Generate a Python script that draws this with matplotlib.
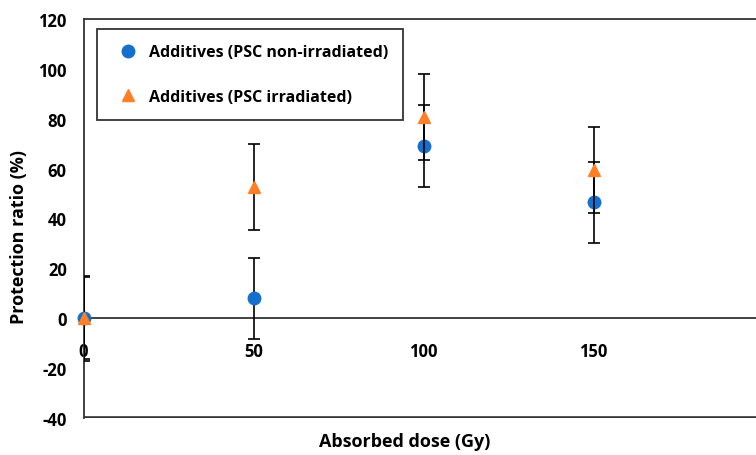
import matplotlib
matplotlib.use("Agg")
import matplotlib.pyplot as plt
from matplotlib.lines import Line2D

dose = [0, 50, 100, 150]
non_irr = [0, 8, 69.2, 46.5]
non_irr_err = [17, 16.2, 16.4, 16.3]
irr = [0, 52.6, 80.6, 59.5]
irr_err = [16.5, 17.2, 17.2, 17.2]
xticks = [0, 50, 100, 150]
yticks = [-40, -20, 0, 20, 40, 60, 80, 100, 120]
labels = ['Additives (PSC non-irradiated)', 'Additives (PSC irradiated)']

plt.rcParams['font.family'] = ['Open Sans', 'DejaVu Sans']
plt.rcParams['font.weight'] = 'bold'
plt.rcParams['axes.unicode_minus'] = False

W, H = 756, 456
fig = plt.figure(figsize=(W/100, H/100), dpi=100)
l, r, t, b = 83.5, 763.5, 20, 419
ax = fig.add_axes([l/W, 1-b/H, (r-l)/W, (b-t)/H])

blue = '#1570CD'
orange = '#FF7F27'

for y, e, m, c, z in [(non_irr, non_irr_err, 'o', blue, 3),
                      (irr, irr_err, '^', orange, 4)]:
    cont = ax.errorbar(dose, y, yerr=e, fmt=m, color=c, ms=9,
                       ecolor='black', elinewidth=1.2, capsize=4,
                       capthick=1.2, zorder=z)
    cont[0].set_clip_on(False)

ax.set_xlim(0, 200)
ax.set_ylim(-40, 120)
ax.set_xticks(xticks)
ax.set_yticks(yticks)
ax.tick_params(axis='both', length=0, labelsize=12)
ax.tick_params(axis='x', pad=17)
ax.tick_params(axis='y', pad=12)
for lab in ax.get_xticklabels() + ax.get_yticklabels():
    lab.set_fontweight('bold')

ax.spines['bottom'].set_position(('data', 0))
for s in ax.spines.values():
    s.set_color('#333333')
    s.set_linewidth(1.3)
ax.axhline(-40, color='#333333', lw=2.6, clip_on=True)

xl = ax.set_xlabel('Absorbed dose (Gy)', fontsize=13, fontweight='bold')
yl = ax.set_ylabel('Protection ratio (%)', fontsize=13, fontweight='bold')
xl.set_va('center')
yl.set_va('center')
ax.xaxis.set_label_coords((405 - l)/(r - l), (b - 442)/(b - t))
ax.yaxis.set_label_coords((19 - l)/(r - l), (b - 237)/(b - t))

handles = [Line2D([], [], ls='none', marker='o', color=blue, ms=9),
           Line2D([], [], ls='none', marker='^', color=orange, ms=9)]
leg = ax.legend(handles=handles, labels=labels, loc='upper left',
                bbox_to_anchor=((97 - l)/(r - l), (b - 30)/(b - t)),
                prop={'weight': 'bold', 'size': 11.5}, frameon=True,
                fancybox=False, edgecolor='#333333', labelspacing=1.8,
                borderpad=0.95, handletextpad=0.3, borderaxespad=0,
                handlelength=2.0, framealpha=1)
leg.get_frame().set_linewidth(1.3)

fig.savefig('out.png', dpi=100)
